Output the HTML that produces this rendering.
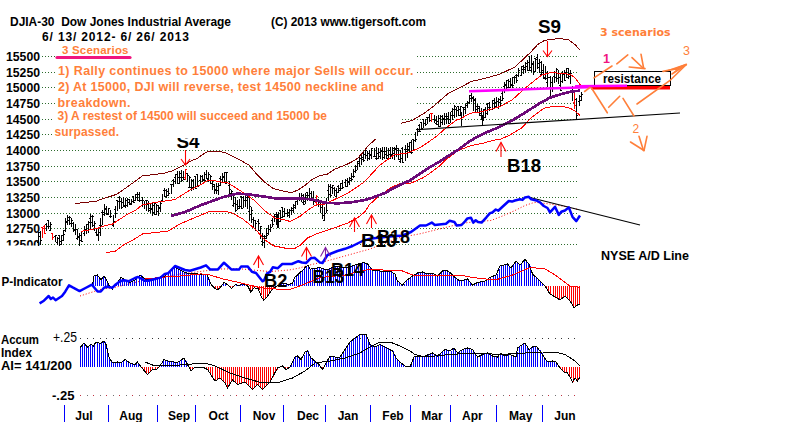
<!DOCTYPE html><html><head><meta charset="utf-8"><title>DJIA-30 Dow Jones Industrial Average</title><style>html,body{margin:0;padding:0;background:#fff;}svg{display:block;}</style></head><body><svg width="800" height="422" viewBox="0 0 800 422"><rect x="0" y="0" width="800" height="422" fill="#fff"/><g stroke="#2d6b2d" stroke-width="1" stroke-dasharray="1 2" shape-rendering="crispEdges"><line x1="42" y1="56.5" x2="579" y2="56.5"/><line x1="42" y1="72.5" x2="579" y2="72.5"/><line x1="42" y1="87.5" x2="579" y2="87.5"/><line x1="42" y1="103.5" x2="579" y2="103.5"/><line x1="42" y1="119.5" x2="579" y2="119.5"/><line x1="42" y1="134.5" x2="579" y2="134.5"/><line x1="42" y1="150.5" x2="579" y2="150.5"/><line x1="42" y1="166.5" x2="579" y2="166.5"/><line x1="42" y1="181.5" x2="579" y2="181.5"/><line x1="42" y1="197.5" x2="579" y2="197.5"/><line x1="42" y1="213.5" x2="579" y2="213.5"/><line x1="42" y1="228.5" x2="579" y2="228.5"/><line x1="42" y1="244.5" x2="579" y2="244.5"/></g><path d="M38 232v14h1v-14zM37 242h1v1h-1zM39 232h1v1h-1zM40 231v14h1v-14zM39 236h1v1h-1zM41 240h1v1h-1zM46 223v8h1v-8zM45 224h1v1h-1zM47 226h1v1h-1zM48 220v9h1v-9zM47 220h1v1h-1zM49 226h1v1h-1zM50 222v9h1v-9zM49 230h1v1h-1zM51 224h1v1h-1zM55 235v7h1v-7zM54 236h1v1h-1zM56 235h1v1h-1zM57 237v8h1v-8zM56 242h1v1h-1zM58 238h1v1h-1zM59 235v11h1v-11zM58 235h1v1h-1zM60 244h1v1h-1zM61 235v10h1v-10zM60 241h1v1h-1zM62 240h1v1h-1zM63 230v11h1v-11zM62 235h1v1h-1zM64 234h1v1h-1zM65 218v14h1v-14zM64 230h1v1h-1zM66 221h1v1h-1zM67 215v10h1v-10zM66 222h1v1h-1zM68 220h1v1h-1zM69 216v9h1v-9zM68 217h1v1h-1zM70 217h1v1h-1zM71 218v9h1v-9zM70 223h1v1h-1zM72 220h1v1h-1zM73 222v10h1v-10zM72 223h1v1h-1zM74 230h1v1h-1zM75 224v11h1v-11zM74 229h1v1h-1zM76 229h1v1h-1zM77 229v11h1v-11zM76 238h1v1h-1zM78 236h1v1h-1zM79 233v13h1v-13zM78 237h1v1h-1zM80 240h1v1h-1zM81 231v11h1v-11zM80 235h1v1h-1zM82 241h1v1h-1zM84 226v10h1v-10zM83 233h1v1h-1zM85 230h1v1h-1zM86 224v10h1v-10zM85 229h1v1h-1zM87 224h1v1h-1zM88 221v12h1v-12zM87 230h1v1h-1zM89 222h1v1h-1zM90 214v15h1v-15zM89 218h1v1h-1zM91 216h1v1h-1zM92 215v12h1v-12zM91 222h1v1h-1zM93 216h1v1h-1zM94 221v10h1v-10zM93 225h1v1h-1zM95 223h1v1h-1zM96 228v8h1v-8zM95 232h1v1h-1zM97 234h1v1h-1zM98 229v12h1v-12zM97 235h1v1h-1zM99 232h1v1h-1zM100 218v18h1v-18zM99 225h1v1h-1zM101 225h1v1h-1zM102 210v15h1v-15zM101 212h1v1h-1zM103 214h1v1h-1zM104 204v12h1v-12zM103 212h1v1h-1zM105 209h1v1h-1zM106 206v9h1v-9zM105 208h1v1h-1zM107 214h1v1h-1zM108 208v7h1v-7zM107 213h1v1h-1zM109 208h1v1h-1zM110 210v8h1v-8zM109 216h1v1h-1zM111 216h1v1h-1zM113 215v12h1v-12zM112 225h1v1h-1zM114 221h1v1h-1zM115 206v12h1v-12zM114 209h1v1h-1zM116 213h1v1h-1zM117 200v11h1v-11zM116 200h1v1h-1zM118 201h1v1h-1zM119 196v13h1v-13zM118 197h1v1h-1zM120 201h1v1h-1zM121 198v11h1v-11zM120 201h1v1h-1zM122 207h1v1h-1zM123 197v10h1v-10zM122 202h1v1h-1zM124 206h1v1h-1zM125 198v10h1v-10zM124 205h1v1h-1zM126 205h1v1h-1zM127 198v9h1v-9zM126 200h1v1h-1zM128 199h1v1h-1zM129 199v6h1v-6zM128 202h1v1h-1zM130 204h1v1h-1zM131 199v6h1v-6zM130 203h1v1h-1zM132 201h1v1h-1zM133 196v7h1v-7zM132 196h1v1h-1zM134 202h1v1h-1zM135 194v7h1v-7zM134 200h1v1h-1zM136 194h1v1h-1zM137 192v9h1v-9zM136 197h1v1h-1zM138 194h1v1h-1zM139 192v10h1v-10zM138 200h1v1h-1zM140 200h1v1h-1zM142 197v10h1v-10zM141 200h1v1h-1zM143 200h1v1h-1zM144 201v8h1v-8zM143 204h1v1h-1zM145 204h1v1h-1zM146 200v11h1v-11zM145 200h1v1h-1zM147 200h1v1h-1zM148 201v11h1v-11zM147 204h1v1h-1zM149 210h1v1h-1zM150 203v10h1v-10zM149 208h1v1h-1zM151 208h1v1h-1zM152 202v14h1v-14zM151 209h1v1h-1zM153 205h1v1h-1zM154 203v12h1v-12zM153 212h1v1h-1zM155 203h1v1h-1zM156 204v11h1v-11zM155 214h1v1h-1zM157 205h1v1h-1zM158 205v11h1v-11zM157 211h1v1h-1zM159 208h1v1h-1zM160 202v10h1v-10zM159 207h1v1h-1zM161 203h1v1h-1zM162 194v8h1v-8zM161 200h1v1h-1zM163 201h1v1h-1zM164 188v9h1v-9zM163 190h1v1h-1zM165 190h1v1h-1zM166 189v9h1v-9zM165 196h1v1h-1zM167 191h1v1h-1zM168 188v8h1v-8zM167 195h1v1h-1zM169 193h1v1h-1zM171 184v10h1v-10zM170 184h1v1h-1zM172 184h1v1h-1zM173 179v8h1v-8zM172 180h1v1h-1zM174 181h1v1h-1zM175 174v10h1v-10zM174 177h1v1h-1zM176 174h1v1h-1zM177 171v13h1v-13zM176 174h1v1h-1zM178 183h1v1h-1zM179 171v13h1v-13zM178 177h1v1h-1zM180 173h1v1h-1zM181 170v12h1v-12zM180 177h1v1h-1zM182 180h1v1h-1zM183 171v9h1v-9zM182 177h1v1h-1zM184 179h1v1h-1zM187 173v9h1v-9zM186 173h1v1h-1zM188 175h1v1h-1zM189 176v12h1v-12zM188 187h1v1h-1zM190 177h1v1h-1zM191 179v12h1v-12zM190 187h1v1h-1zM192 187h1v1h-1zM193 179v11h1v-11zM192 180h1v1h-1zM194 187h1v1h-1zM195 176v13h1v-13zM194 176h1v1h-1zM196 188h1v1h-1zM197 174v13h1v-13zM196 174h1v1h-1zM198 186h1v1h-1zM200 175v10h1v-10zM199 180h1v1h-1zM201 184h1v1h-1zM202 175v7h1v-7zM201 176h1v1h-1zM203 180h1v1h-1zM204 172v9h1v-9zM203 179h1v1h-1zM205 180h1v1h-1zM206 170v9h1v-9zM205 174h1v1h-1zM207 178h1v1h-1zM208 172v10h1v-10zM207 179h1v1h-1zM209 174h1v1h-1zM210 175v9h1v-9zM209 180h1v1h-1zM211 176h1v1h-1zM212 180v10h1v-10zM211 183h1v1h-1zM213 184h1v1h-1zM214 184v10h1v-10zM213 186h1v1h-1zM215 189h1v1h-1zM216 183v11h1v-11zM215 190h1v1h-1zM217 186h1v1h-1zM218 183v12h1v-12zM217 190h1v1h-1zM219 185h1v1h-1zM220 176v10h1v-10zM219 178h1v1h-1zM221 182h1v1h-1zM222 173v10h1v-10zM221 179h1v1h-1zM223 176h1v1h-1zM224 172v11h1v-11zM223 177h1v1h-1zM225 172h1v1h-1zM226 172v12h1v-12zM225 183h1v1h-1zM227 172h1v1h-1zM229 181v14h1v-14zM228 185h1v1h-1zM230 189h1v1h-1zM231 190v10h1v-10zM230 193h1v1h-1zM232 191h1v1h-1zM233 193v14h1v-14zM232 205h1v1h-1zM234 195h1v1h-1zM235 197v15h1v-15zM234 203h1v1h-1zM236 210h1v1h-1zM237 200v10h1v-10zM236 204h1v1h-1zM238 206h1v1h-1zM239 199v10h1v-10zM238 208h1v1h-1zM240 206h1v1h-1zM241 196v13h1v-13zM240 196h1v1h-1zM242 208h1v1h-1zM243 196v12h1v-12zM242 197h1v1h-1zM244 200h1v1h-1zM245 196v11h1v-11zM244 200h1v1h-1zM246 197h1v1h-1zM247 196v13h1v-13zM246 200h1v1h-1zM248 197h1v1h-1zM249 198v17h1v-17zM248 211h1v1h-1zM250 206h1v1h-1zM251 207v16h1v-16zM250 214h1v1h-1zM252 210h1v1h-1zM253 217v11h1v-11zM252 219h1v1h-1zM254 220h1v1h-1zM255 220v11h1v-11zM254 228h1v1h-1zM256 223h1v1h-1zM258 219v12h1v-12zM257 221h1v1h-1zM259 223h1v1h-1zM260 226v13h1v-13zM259 230h1v1h-1zM261 226h1v1h-1zM262 233v13h1v-13zM261 241h1v1h-1zM263 236h1v1h-1zM264 235v13h1v-13zM263 242h1v1h-1zM265 236h1v1h-1zM266 228v11h1v-11zM265 238h1v1h-1zM267 235h1v1h-1zM268 225v10h1v-10zM267 233h1v1h-1zM269 229h1v1h-1zM270 224v8h1v-8zM269 229h1v1h-1zM271 227h1v1h-1zM272 218v9h1v-9zM271 220h1v1h-1zM273 224h1v1h-1zM274 214v8h1v-8zM273 216h1v1h-1zM275 214h1v1h-1zM276 212v13h1v-13zM275 216h1v1h-1zM277 218h1v1h-1zM278 212v16h1v-16zM277 224h1v1h-1zM279 221h1v1h-1zM280 210v12h1v-12zM279 210h1v1h-1zM281 217h1v1h-1zM282 207v11h1v-11zM281 207h1v1h-1zM283 211h1v1h-1zM284 208v9h1v-9zM283 216h1v1h-1zM285 213h1v1h-1zM287 209v8h1v-8zM286 213h1v1h-1zM288 212h1v1h-1zM289 209v9h1v-9zM288 215h1v1h-1zM290 210h1v1h-1zM291 207v8h1v-8zM290 210h1v1h-1zM292 210h1v1h-1zM293 204v9h1v-9zM292 208h1v1h-1zM294 205h1v1h-1zM295 201v8h1v-8zM294 207h1v1h-1zM296 201h1v1h-1zM297 197v8h1v-8zM296 198h1v1h-1zM298 199h1v1h-1zM299 193v8h1v-8zM298 199h1v1h-1zM300 198h1v1h-1zM301 193v9h1v-9zM300 197h1v1h-1zM302 195h1v1h-1zM303 194v11h1v-11zM302 202h1v1h-1zM304 204h1v1h-1zM305 193v11h1v-11zM304 201h1v1h-1zM306 195h1v1h-1zM307 192v9h1v-9zM306 192h1v1h-1zM308 195h1v1h-1zM309 188v11h1v-11zM308 198h1v1h-1zM310 193h1v1h-1zM311 191v10h1v-10zM310 198h1v1h-1zM312 199h1v1h-1zM313 191v14h1v-14zM312 199h1v1h-1zM314 201h1v1h-1zM318 199v8h1v-8zM317 200h1v1h-1zM319 200h1v1h-1zM320 203v10h1v-10zM319 204h1v1h-1zM321 207h1v1h-1zM322 204v15h1v-15zM321 207h1v1h-1zM323 215h1v1h-1zM324 207v14h1v-14zM323 220h1v1h-1zM325 213h1v1h-1zM326 198v15h1v-15zM325 202h1v1h-1zM327 210h1v1h-1zM328 184v17h1v-17zM327 190h1v1h-1zM329 186h1v1h-1zM330 184v13h1v-13zM329 194h1v1h-1zM331 195h1v1h-1zM332 185v9h1v-9zM331 187h1v1h-1zM333 185h1v1h-1zM334 187v9h1v-9zM333 188h1v1h-1zM335 190h1v1h-1zM336 188v9h1v-9zM335 196h1v1h-1zM337 192h1v1h-1zM338 185v8h1v-8zM337 186h1v1h-1zM339 188h1v1h-1zM340 183v8h1v-8zM339 190h1v1h-1zM341 183h1v1h-1zM342 180v9h1v-9zM341 188h1v1h-1zM343 187h1v1h-1zM345 179v8h1v-8zM344 182h1v1h-1zM346 180h1v1h-1zM347 178v9h1v-9zM346 186h1v1h-1zM348 182h1v1h-1zM349 177v8h1v-8zM348 181h1v1h-1zM350 178h1v1h-1zM351 173v8h1v-8zM350 180h1v1h-1zM352 179h1v1h-1zM353 169v9h1v-9zM352 176h1v1h-1zM354 176h1v1h-1zM355 165v8h1v-8zM354 171h1v1h-1zM356 170h1v1h-1zM357 161v9h1v-9zM356 166h1v1h-1zM358 161h1v1h-1zM359 157v10h1v-10zM358 163h1v1h-1zM360 158h1v1h-1zM361 155v10h1v-10zM360 155h1v1h-1zM362 159h1v1h-1zM363 151v11h1v-11zM362 157h1v1h-1zM364 160h1v1h-1zM365 150v9h1v-9zM364 154h1v1h-1zM366 150h1v1h-1zM367 151v10h1v-10zM366 155h1v1h-1zM368 153h1v1h-1zM369 150v10h1v-10zM368 158h1v1h-1zM370 155h1v1h-1zM371 148v11h1v-11zM370 154h1v1h-1zM372 148h1v1h-1zM374 148v9h1v-9zM373 156h1v1h-1zM375 156h1v1h-1zM376 147v13h1v-13zM375 158h1v1h-1zM377 153h1v1h-1zM378 148v11h1v-11zM377 158h1v1h-1zM379 152h1v1h-1zM380 148v11h1v-11zM379 156h1v1h-1zM381 150h1v1h-1zM382 147v13h1v-13zM381 151h1v1h-1zM383 151h1v1h-1zM384 147v12h1v-12zM383 157h1v1h-1zM385 151h1v1h-1zM386 147v12h1v-12zM385 154h1v1h-1zM387 155h1v1h-1zM388 148v12h1v-12zM387 158h1v1h-1zM389 150h1v1h-1zM390 147v12h1v-12zM389 154h1v1h-1zM391 155h1v1h-1zM392 147v12h1v-12zM391 154h1v1h-1zM393 153h1v1h-1zM394 147v13h1v-13zM393 148h1v1h-1zM395 149h1v1h-1zM396 145v12h1v-12zM395 148h1v1h-1zM397 150h1v1h-1zM398 148v12h1v-12zM397 148h1v1h-1zM399 159h1v1h-1zM400 150v13h1v-13zM399 161h1v1h-1zM401 158h1v1h-1zM402 147v16h1v-16zM401 148h1v1h-1zM403 162h1v1h-1zM405 145v16h1v-16zM404 149h1v1h-1zM406 151h1v1h-1zM407 143v15h1v-15zM406 149h1v1h-1zM408 149h1v1h-1zM409 142v11h1v-11zM408 146h1v1h-1zM410 142h1v1h-1zM411 140v14h1v-14zM410 152h1v1h-1zM412 152h1v1h-1zM413 139v12h1v-12zM412 139h1v1h-1zM414 140h1v1h-1zM415 132v10h1v-10zM414 140h1v1h-1zM416 139h1v1h-1zM417 128v8h1v-8zM416 129h1v1h-1zM418 131h1v1h-1zM419 124v8h1v-8zM418 125h1v1h-1zM420 131h1v1h-1zM421 122v7h1v-7zM420 122h1v1h-1zM422 128h1v1h-1zM423 119v9h1v-9zM422 119h1v1h-1zM424 123h1v1h-1zM425 119v7h1v-7zM424 123h1v1h-1zM426 124h1v1h-1zM427 117v7h1v-7zM426 117h1v1h-1zM428 117h1v1h-1zM429 114v8h1v-8zM428 117h1v1h-1zM430 120h1v1h-1zM434 115v8h1v-8zM433 119h1v1h-1zM435 120h1v1h-1zM436 116v9h1v-9zM435 123h1v1h-1zM437 124h1v1h-1zM438 115v12h1v-12zM437 121h1v1h-1zM439 126h1v1h-1zM440 115v12h1v-12zM439 118h1v1h-1zM441 122h1v1h-1zM442 115v10h1v-10zM441 116h1v1h-1zM443 119h1v1h-1zM444 113v12h1v-12zM443 118h1v1h-1zM445 116h1v1h-1zM446 113v11h1v-11zM445 119h1v1h-1zM447 118h1v1h-1zM448 112v12h1v-12zM447 116h1v1h-1zM449 123h1v1h-1zM450 112v11h1v-11zM449 119h1v1h-1zM451 115h1v1h-1zM452 108v12h1v-12zM451 111h1v1h-1zM453 115h1v1h-1zM454 105v13h1v-13zM453 109h1v1h-1zM455 106h1v1h-1zM456 107v10h1v-10zM455 109h1v1h-1zM457 110h1v1h-1zM458 106v10h1v-10zM457 106h1v1h-1zM459 115h1v1h-1zM460 106v10h1v-10zM459 109h1v1h-1zM461 106h1v1h-1zM463 107v9h1v-9zM462 107h1v1h-1zM464 107h1v1h-1zM465 104v10h1v-10zM464 109h1v1h-1zM466 105h1v1h-1zM467 101v7h1v-7zM466 103h1v1h-1zM468 102h1v1h-1zM469 95v9h1v-9zM468 102h1v1h-1zM470 95h1v1h-1zM471 93v9h1v-9zM470 98h1v1h-1zM472 98h1v1h-1zM473 96v15h1v-15zM472 97h1v1h-1zM474 100h1v1h-1zM475 98v14h1v-14zM474 99h1v1h-1zM476 106h1v1h-1zM477 104v8h1v-8zM476 109h1v1h-1zM478 108h1v1h-1zM479 106v10h1v-10zM478 106h1v1h-1zM480 113h1v1h-1zM481 108v12h1v-12zM480 115h1v1h-1zM482 111h1v1h-1zM483 109v12h1v-12zM482 116h1v1h-1zM484 109h1v1h-1zM485 107v11h1v-11zM484 117h1v1h-1zM486 113h1v1h-1zM487 103v12h1v-12zM486 104h1v1h-1zM488 103h1v1h-1zM489 102v9h1v-9zM488 107h1v1h-1zM490 107h1v1h-1zM492 100v10h1v-10zM491 109h1v1h-1zM493 100h1v1h-1zM494 98v11h1v-11zM493 103h1v1h-1zM495 102h1v1h-1zM496 97v11h1v-11zM495 106h1v1h-1zM497 107h1v1h-1zM498 98v11h1v-11zM497 101h1v1h-1zM499 99h1v1h-1zM500 96v10h1v-10zM499 102h1v1h-1zM501 100h1v1h-1zM502 91v10h1v-10zM501 93h1v1h-1zM503 98h1v1h-1zM504 82v11h1v-11zM503 86h1v1h-1zM505 84h1v1h-1zM506 80v10h1v-10zM505 85h1v1h-1zM507 87h1v1h-1zM508 79v9h1v-9zM507 80h1v1h-1zM509 87h1v1h-1zM510 78v10h1v-10zM509 81h1v1h-1zM511 84h1v1h-1zM512 77v11h1v-11zM511 85h1v1h-1zM513 85h1v1h-1zM514 76v8h1v-8zM513 77h1v1h-1zM515 77h1v1h-1zM516 74v9h1v-9zM515 75h1v1h-1zM517 80h1v1h-1zM518 68v9h1v-9zM517 75h1v1h-1zM519 70h1v1h-1zM521 66v10h1v-10zM520 75h1v1h-1zM522 69h1v1h-1zM523 65v9h1v-9zM522 66h1v1h-1zM524 69h1v1h-1zM525 62v11h1v-11zM524 67h1v1h-1zM526 66h1v1h-1zM527 60v11h1v-11zM526 63h1v1h-1zM528 62h1v1h-1zM529 56v15h1v-15zM528 70h1v1h-1zM530 70h1v1h-1zM531 55v17h1v-17zM530 67h1v1h-1zM532 63h1v1h-1zM533 61v14h1v-14zM532 64h1v1h-1zM534 71h1v1h-1zM535 58v14h1v-14zM534 58h1v1h-1zM536 59h1v1h-1zM537 54v15h1v-15zM536 57h1v1h-1zM538 67h1v1h-1zM539 59v14h1v-14zM538 63h1v1h-1zM540 62h1v1h-1zM541 61v15h1v-15zM540 74h1v1h-1zM542 70h1v1h-1zM543 64v15h1v-15zM542 72h1v1h-1zM544 77h1v1h-1zM545 66v14h1v-14zM544 78h1v1h-1zM546 78h1v1h-1zM547 71v16h1v-16zM546 82h1v1h-1zM548 77h1v1h-1zM550 76v18h1v-18zM549 77h1v1h-1zM551 82h1v1h-1zM552 77v15h1v-15zM551 88h1v1h-1zM553 87h1v1h-1zM554 71v12h1v-12zM553 76h1v1h-1zM555 77h1v1h-1zM556 68v14h1v-14zM555 72h1v1h-1zM557 69h1v1h-1zM558 70v14h1v-14zM557 78h1v1h-1zM559 77h1v1h-1zM560 73v18h1v-18zM559 85h1v1h-1zM561 90h1v1h-1zM562 71v12h1v-12zM561 81h1v1h-1zM563 73h1v1h-1zM564 70v11h1v-11zM563 74h1v1h-1zM565 80h1v1h-1zM566 68v10h1v-10zM565 72h1v1h-1zM567 77h1v1h-1zM568 68v11h1v-11zM567 68h1v1h-1zM569 73h1v1h-1zM570 70v14h1v-14zM569 76h1v1h-1zM571 73h1v1h-1zM572 86v15h1v-15zM571 88h1v1h-1zM573 92h1v1h-1zM576 98v20h1v-20zM575 99h1v1h-1zM577 115h1v1h-1zM579 95v11h1v-11zM578 101h1v1h-1zM580 96h1v1h-1zM581 92v9h1v-9zM580 100h1v1h-1zM582 94h1v1h-1z" fill="#000" shape-rendering="crispEdges"/><path d="M461 112v14h1v-14zM482 115v10h1v-10zM550 88v11h1v-11zM576 108v12h1v-12zM249 205v16h1v-16zM277 214v14h1v-14z" fill="#000" shape-rendering="crispEdges"/><path d="M42 227v11h1v-11zM41 227h1v1h-1zM43 228h1v1h-1zM44 225v9h1v-9zM43 226h1v1h-1zM45 233h1v1h-1zM52 233v7h1v-7zM51 233h1v1h-1zM53 237h1v1h-1zM185 169v11h1v-11zM184 177h1v1h-1zM186 169h1v1h-1zM316 195v11h1v-11zM315 202h1v1h-1zM317 196h1v1h-1zM431 113v9h1v-9zM430 113h1v1h-1zM432 113h1v1h-1zM574 91v18h1v-18zM573 102h1v1h-1zM575 105h1v1h-1z" fill="#f00" shape-rendering="crispEdges"/><polyline points="75.0,203.5 85.0,202.5 97.0,201.0 100.0,199.5 110.0,196.5 116.0,194.5 120.0,192.0 130.0,185.0 135.0,181.3 142.5,175.7 155.0,174.5 165.0,173.0 172.7,170.7 184.0,165.0 192.8,160.0 196.7,158.8 205.6,152.5 210.0,151.3 217.0,151.3 225.0,152.5 240.0,160.0 248.9,165.0 256.4,173.8 265.2,182.6 272.7,188.2 281.5,190.8 291.6,192.6 297.9,190.0 305.4,185.0 313.0,178.8 320.5,175.5 327.5,174.0 335.0,169.0 345.0,165.2 352.7,161.4 357.7,158.3 362.7,152.6 367.7,146.3 376.5,138.2 385.0,132.0 401.0,123.2 412.0,120.6 425.0,112.8 435.0,105.0 447.7,93.8 460.0,87.5 471.6,81.3 478.0,80.0 490.0,77.0 500.0,74.0 515.0,67.0 525.0,57.6 531.4,51.4 537.7,44.5 544.0,40.7 550.3,39.4 556.0,38.9 562.8,39.0 569.0,40.0 575.4,45.0 580.0,50.0" fill="none" stroke="#7a0000" stroke-width="1" shape-rendering="crispEdges"/><polyline points="106.0,252.5 115.0,251.5 125.0,244.0 133.0,240.0 142.5,234.0 155.0,232.5 167.5,231.3 180.0,224.0 195.0,217.5 210.0,211.3 225.0,211.3 232.0,213.0 242.6,218.8 255.0,229.0 265.0,240.0 274.0,245.9 286.5,248.4 294.0,249.0 300.4,245.0 308.0,237.7 318.0,233.3 330.0,229.5 347.7,223.0 357.8,217.7 365.3,211.5 369.0,205.0 379.5,195.6 392.6,186.5 401.7,183.2 410.8,183.2 422.5,178.0 429.0,174.0 440.0,165.6 445.3,160.2 457.8,150.8 470.4,145.8 483.0,143.2 495.0,140.0 500.0,139.5 510.0,135.0 518.0,130.0 521.4,128.0 532.7,116.5 544.0,108.3 552.8,106.4 562.8,106.4 570.4,108.3 575.4,111.4 579.8,115.2" fill="none" stroke="#ff0000" stroke-width="1" shape-rendering="crispEdges"/><polyline points="80.6,231.4 88.8,230.0 97.6,228.3 105.0,225.8 112.6,224.0 121.4,218.2 127.7,214.0 136.0,210.0 142.0,205.0 152.0,203.0 165.0,201.0 175.0,199.5 190.0,190.0 200.0,185.0 209.0,180.0 215.4,180.8 220.5,182.0 227.6,182.6 242.3,192.0 253.7,200.0 265.0,211.0 275.0,218.0 283.0,219.5 290.0,221.4 300.0,216.3 308.0,210.0 315.0,205.6 316.0,205.0 325.0,204.0 337.7,198.0 347.6,193.3 364.0,182.2 380.0,165.0 394.0,155.0 408.0,152.8 420.0,147.6 427.7,142.6 436.5,136.3 446.5,127.5 456.5,120.0 460.0,119.0 470.0,113.3 480.0,112.0 490.4,109.5 500.5,106.4 512.6,99.5 525.0,88.2 532.7,82.0 541.5,75.2 550.0,72.7 562.8,73.3 570.4,74.5 575.0,78.0 580.4,85.0" fill="none" stroke="#ff0000" stroke-width="1" shape-rendering="crispEdges"/><polyline points="171.0,216.0 185.0,212.0 200.0,205.5 215.0,200.0 225.0,196.5 237.6,193.6 250.0,194.5 262.7,196.4 275.3,198.3 287.8,198.7 300.4,198.5 313.0,199.5 325.0,202.8 337.7,203.3 350.0,202.4 362.8,200.5 373.0,197.5 386.0,192.5 394.0,187.8 409.7,180.5 430.0,167.0 440.0,161.5 445.3,157.7 457.8,150.0 470.4,140.7 483.0,133.8 495.0,128.8 500.0,126.5 512.6,120.2 525.0,112.7 537.7,104.5 550.0,97.6 562.8,93.6 572.9,91.3 580.4,90.7" fill="none" stroke="#6c0a78" stroke-width="2.7" shape-rendering="crispEdges"/><polyline points="469,91.3 540,88.8 627,86" fill="none" stroke="#ff00ff" stroke-width="2.6"/><line x1="417.5" y1="129.6" x2="680" y2="113" stroke="#000" stroke-width="1.1"/><polyline points="80.0,296.0 102.5,288.8 112.6,288.0 145.0,280.0 180.0,274.0 220.0,269.0 240.0,268.8 270.0,271.6 289.0,270.0 298.4,268.3 307.9,265.4 320.0,262.6 325.0,261.5 370.0,249.0 400.0,237.5 420.0,233.8 443.7,227.9 455.5,225.0 467.4,222.6 479.2,221.4 491.0,220.5 502.5,216.0 515.0,210.5 525.0,205.5 532.5,203.0 536.0,202.4 550.0,204.0 565.0,206.5 578.0,209.5" fill="none" stroke="#f00" stroke-width="1" stroke-dasharray="1 2"/><line x1="530" y1="197.5" x2="640" y2="225" stroke="#000" stroke-width="1.1"/><path d="M93 282V286h1V282zM95 276V286h1V276zM97 275V286h1V275zM99 277V286h1V277zM101 280V286h1V280zM103 277V286h1V277zM105 278V286h1V278zM107 282V286h1V282zM116 285V286h1V285zM118 282V286h1V282zM120 279V286h1V279zM122 278V286h1V278zM124 279V286h1V279zM126 281V286h1V281zM128 282V286h1V282zM130 282V286h1V282zM132 281V286h1V281zM134 280V286h1V280zM136 279V286h1V279zM139 276V286h1V276zM141 275V286h1V275zM143 277V286h1V277zM145 279V286h1V279zM147 279V286h1V279zM149 280V286h1V280zM151 280V286h1V280zM153 279V286h1V279zM155 278V286h1V278zM157 278V286h1V278zM159 277V286h1V277zM161 277V286h1V277zM163 276V286h1V276zM165 276V286h1V276zM168 273V286h1V273zM170 271V286h1V271zM172 270V286h1V270zM174 268V286h1V268zM176 268V286h1V268zM178 269V286h1V269zM180 270V286h1V270zM182 271V286h1V271zM184 272V286h1V272zM186 273V286h1V273zM188 273V286h1V273zM190 274V286h1V274zM192 274V286h1V274zM194 274V286h1V274zM196 274V286h1V274zM199 274V286h1V274zM201 274V286h1V274zM203 274V286h1V274zM205 274V286h1V274zM207 275V286h1V275zM209 279V286h1V279zM211 284V286h1V284zM223 283V286h1V283zM225 283V286h1V283zM228 285V286h1V285zM236 284V286h1V284zM240 285V286h1V285zM242 284V286h1V284zM244 284V286h1V284zM246 285V286h1V285zM279 285V286h1V285zM281 284V286h1V284zM283 284V286h1V284zM286 284V286h1V284zM288 284V286h1V284zM290 284V286h1V284zM292 283V286h1V283zM294 280V286h1V280zM296 276V286h1V276zM298 274V286h1V274zM300 273V286h1V273zM302 271V286h1V271zM304 269V286h1V269zM306 266V286h1V266zM308 266V286h1V266zM310 269V286h1V269zM312 269V286h1V269zM314 268V286h1V268zM317 268V286h1V268zM319 268V286h1V268zM321 268V286h1V268zM323 268V286h1V268zM325 269V286h1V269zM327 270V286h1V270zM329 269V286h1V269zM331 268V286h1V268zM333 267V286h1V267zM335 266V286h1V266zM337 266V286h1V266zM339 267V286h1V267zM341 267V286h1V267zM343 268V286h1V268zM346 268V286h1V268zM348 267V286h1V267zM350 267V286h1V267zM352 266V286h1V266zM354 265V286h1V265zM356 265V286h1V265zM358 264V286h1V264zM360 264V286h1V264zM362 263V286h1V263zM364 263V286h1V263zM366 263V286h1V263zM368 265V286h1V265zM370 267V286h1V267zM372 270V286h1V270zM375 270V286h1V270zM377 271V286h1V271zM379 271V286h1V271zM381 271V286h1V271zM383 271V286h1V271zM385 271V286h1V271zM387 271V286h1V271zM389 271V286h1V271zM391 272V286h1V272zM393 273V286h1V273zM395 275V286h1V275zM397 280V286h1V280zM399 282V286h1V282zM401 284V286h1V284zM404 284V286h1V284zM406 281V286h1V281zM408 280V286h1V280zM410 278V286h1V278zM412 277V286h1V277zM414 275V286h1V275zM416 274V286h1V274zM418 273V286h1V273zM420 272V286h1V272zM422 272V286h1V272zM424 273V286h1V273zM426 273V286h1V273zM428 274V286h1V274zM430 273V286h1V273zM432 273V286h1V273zM435 274V286h1V274zM437 276V286h1V276zM439 275V286h1V275zM441 273V286h1V273zM443 271V286h1V271zM445 270V286h1V270zM447 271V286h1V271zM449 272V286h1V272zM451 274V286h1V274zM453 276V286h1V276zM455 278V286h1V278zM457 279V286h1V279zM459 281V286h1V281zM461 281V286h1V281zM464 280V286h1V280zM466 280V286h1V280zM468 279V286h1V279zM470 282V286h1V282zM472 284V286h1V284zM474 284V286h1V284zM476 283V286h1V283zM478 282V286h1V282zM480 282V286h1V282zM482 282V286h1V282zM484 281V286h1V281zM486 280V286h1V280zM488 279V286h1V279zM490 277V286h1V277zM493 276V286h1V276zM495 276V286h1V276zM497 274V286h1V274zM499 269V286h1V269zM501 266V286h1V266zM503 265V286h1V265zM505 265V286h1V265zM507 264V286h1V264zM509 266V286h1V266zM511 268V286h1V268zM513 265V286h1V265zM515 262V286h1V262zM517 262V286h1V262zM519 264V286h1V264zM521 263V286h1V263zM524 261V286h1V261zM526 260V286h1V260zM528 263V286h1V263zM530 266V286h1V266zM532 272V286h1V272zM534 275V286h1V275zM536 277V286h1V277zM538 279V286h1V279zM540 281V286h1V281zM542 283V286h1V283zM544 285V286h1V285z" fill="#0000ff" shape-rendering="crispEdges"/><path d="M110 286V287h1V286zM112 286V288h1V286zM114 286V287h1V286zM213 286V287h1V286zM215 286V288h1V286zM217 286V290h1V286zM219 286V289h1V286zM230 286V287h1V286zM232 286V288h1V286zM248 286V287h1V286zM250 286V291h1V286zM252 286V290h1V286zM254 286V288h1V286zM257 286V288h1V286zM259 286V290h1V286zM261 286V295h1V286zM263 286V299h1V286zM265 286V299h1V286zM267 286V297h1V286zM269 286V294h1V286zM271 286V291h1V286zM273 286V289h1V286zM275 286V287h1V286zM546 286V288h1V286zM548 286V291h1V286zM550 286V294h1V286zM553 286V295h1V286zM555 286V297h1V286zM557 286V298h1V286zM559 286V299h1V286zM561 286V299h1V286zM563 286V298h1V286zM565 286V296h1V286zM567 286V298h1V286zM569 286V300h1V286zM571 286V303h1V286zM573 286V306h1V286zM575 286V307h1V286zM577 286V305h1V286zM579 286V304h1V286z" fill="#ff0000" shape-rendering="crispEdges"/><polyline points="92.5,286.0 93.8,276.0 97.5,275.0 101.0,280.0 104.0,276.0 106.0,279.0 110.0,287.5 112.5,289.0 117.5,282.5 121.0,277.5 125.0,280.0 130.0,282.5 135.0,280.0 140.0,275.0 145.0,279.0 150.0,280.0 157.5,277.5 165.0,276.0 170.0,271.0 175.0,267.5 180.0,270.0 185.0,272.5 190.0,273.9 196.0,273.9 205.0,274.5 207.0,275.0 211.3,285.0 216.7,289.9 219.8,288.3 224.0,282.4 227.3,284.5 231.6,288.3 235.9,284.0 238.0,286.0 242.3,283.5 247.6,285.6 250.8,292.0 254.0,287.7 258.3,288.8 261.5,297.3 263.6,300.0 266.8,297.3 272.5,289.0 277.0,286.0 281.0,284.0 285.0,283.5 289.0,284.5 292.7,283.0 294.6,277.7 298.4,274.0 303.0,270.0 306.0,266.4 308.0,265.4 310.0,269.2 320.0,267.5 327.0,270.0 335.0,266.0 345.0,268.0 355.0,265.0 363.8,262.5 367.5,264.0 372.5,270.0 380.0,271.0 390.0,271.0 395.0,274.0 397.5,281.0 402.5,285.0 406.0,281.0 412.5,276.0 417.5,273.0 422.5,272.0 427.5,273.8 432.0,273.0 437.5,276.0 442.5,271.0 446.0,270.0 450.0,272.5 455.0,277.5 460.0,281.0 467.5,279.0 472.5,285.0 477.5,282.5 485.0,281.0 490.0,277.5 496.0,275.0 500.0,266.0 507.5,264.0 511.0,268.0 516.0,261.0 520.0,265.0 525.0,259.5 529.0,264.0 532.5,274.0 540.0,281.0 545.0,286.0 550.0,294.0 556.0,297.5 560.0,300.0 565.0,296.0 570.0,301.0 574.0,307.5 577.5,305.0 580.0,304.0" fill="none" stroke="#000" stroke-width="1" shape-rendering="crispEdges"/><polyline points="145.0,279.0 165.0,277.0 180.0,276.0 190.0,275.0 200.7,273.9 208.0,274.4 222.0,278.7 243.3,283.5 258.3,287.2 270.0,288.8 290.0,289.5 305.0,284.0 320.0,277.5 345.0,275.0 370.0,269.0 395.0,271.0 400.0,270.0 412.5,275.0 437.5,276.0 460.0,275.0 472.5,277.5 495.0,280.0 512.5,275.0 530.0,267.5 545.0,268.8 555.0,275.0 570.0,286.0 580.0,287.5" fill="none" stroke="#f00" stroke-width="1" shape-rendering="crispEdges"/><polyline points="39.6,303.4 43.9,300.7 48.7,296.0 50.8,299.0 53.0,297.5 55.6,300.2 62.0,296.0 65.2,291.7 69.0,285.3 72.7,287.4 79.6,291.1 85.5,288.0 91.9,284.7 94.4,287.7 97.6,291.5 100.8,291.5 104.0,287.7 107.2,286.7 112.5,287.7 115.7,284.5 120.0,281.3 124.3,280.3 128.5,281.3 135.0,278.0 138.0,277.0 141.3,278.7 144.5,280.8 148.0,280.8 152.0,279.7 160.5,277.6 164.8,273.9 168.0,273.3 175.0,266.0 185.0,270.0 190.0,270.7 200.7,267.5 206.0,265.3 210.3,269.6 217.7,269.6 224.0,262.7 231.6,269.6 239.0,269.6 241.2,266.4 247.6,266.4 251.9,271.7 256.0,273.0 262.5,281.3 264.0,280.5 267.0,273.4 270.0,272.0 272.8,267.3 277.6,268.3 282.3,264.0 291.8,264.0 298.4,261.2 302.0,262.5 306.0,263.0 310.7,258.3 314.5,257.8 320.0,262.6 322.5,263.0 327.5,255.0 337.5,251.0 345.0,248.8 352.5,246.0 362.5,241.0 370.0,238.8 380.0,237.5 395.0,236.0 401.6,235.8 411.0,232.0 420.0,225.5 426.0,225.5 431.8,222.6 434.8,225.0 446.0,223.8 449.6,220.8 454.4,222.0 456.7,225.5 461.5,225.0 465.0,221.4 467.4,218.4 471.0,217.8 473.3,222.6 475.7,220.2 478.0,222.0 481.6,222.6 486.4,217.3 490.0,213.1 492.3,212.5 495.8,209.5 498.2,210.7 502.5,206.8 508.8,201.0 512.0,201.6 515.0,200.5 520.0,199.3 522.5,199.9 525.0,197.4 528.8,196.8 531.3,199.3 536.3,200.5 540.0,202.4 543.8,206.0 547.5,208.0 550.0,212.4 555.0,206.8 558.8,214.9 561.3,211.8 565.0,210.5 568.8,207.4 572.5,216.8 576.3,221.1 580.0,215.5" fill="none" stroke="#0000ff" stroke-width="2.5" stroke-linejoin="round"/><line x1="80" y1="338.5" x2="580" y2="338.5" stroke="#333" stroke-width="1" stroke-dasharray="1 5.5" shape-rendering="crispEdges"/><line x1="80" y1="395.5" x2="580" y2="395.5" stroke="#c03040" stroke-width="1" stroke-dasharray="1 12" shape-rendering="crispEdges"/><line x1="86.5" y1="395.5" x2="580" y2="395.5" stroke="#707070" stroke-width="1" stroke-dasharray="1 12" shape-rendering="crispEdges"/><path d="M80 348V367h1V348zM82 345V367h1V345zM84 343V367h1V343zM86 346V367h1V346zM88 346V367h1V346zM90 345V367h1V345zM92 345V367h1V345zM94 344V367h1V344zM97 342V367h1V342zM99 343V367h1V343zM101 343V367h1V343zM103 342V367h1V342zM105 342V367h1V342zM107 348V367h1V348zM109 357V367h1V357zM111 361V367h1V361zM113 363V367h1V363zM115 362V367h1V362zM117 362V367h1V362zM119 363V367h1V363zM121 363V367h1V363zM123 361V367h1V361zM126 360V367h1V360zM128 361V367h1V361zM130 363V367h1V363zM132 364V367h1V364zM134 364V367h1V364zM136 364V367h1V364zM138 363V367h1V363zM140 366V367h1V366zM161 365V367h1V365zM163 361V367h1V361zM165 360V367h1V360zM167 361V367h1V361zM169 361V367h1V361zM171 361V367h1V361zM173 361V367h1V361zM175 363V367h1V363zM177 362V367h1V362zM179 361V367h1V361zM181 360V367h1V360zM184 358V367h1V358zM186 361V367h1V361zM188 365V367h1V365zM283 366V367h1V366zM291 365V367h1V365zM293 361V367h1V361zM295 357V367h1V357zM297 356V367h1V356zM299 358V367h1V358zM301 359V367h1V359zM304 355V367h1V355zM306 352V367h1V352zM308 351V367h1V351zM310 356V367h1V356zM312 359V367h1V359zM314 360V367h1V360zM316 362V367h1V362zM318 364V367h1V364zM320 366V367h1V366zM324 366V367h1V366zM326 362V367h1V362zM328 359V367h1V359zM330 356V367h1V356zM333 357V367h1V357zM335 357V367h1V357zM337 357V367h1V357zM339 357V367h1V357zM341 356V367h1V356zM343 353V367h1V353zM345 350V367h1V350zM347 346V367h1V346zM349 343V367h1V343zM351 341V367h1V341zM353 339V367h1V339zM355 338V367h1V338zM357 336V367h1V336zM359 335V367h1V335zM362 334V367h1V334zM364 334V367h1V334zM366 334V367h1V334zM368 339V367h1V339zM370 344V367h1V344zM372 345V367h1V345zM374 346V367h1V346zM376 346V367h1V346zM378 345V367h1V345zM380 345V367h1V345zM382 346V367h1V346zM384 347V367h1V347zM386 348V367h1V348zM388 349V367h1V349zM390 350V367h1V350zM393 351V367h1V351zM395 355V367h1V355zM397 359V367h1V359zM399 361V367h1V361zM401 363V367h1V363zM403 364V367h1V364zM405 366V367h1V366zM407 366V367h1V366zM411 364V367h1V364zM413 359V367h1V359zM415 357V367h1V357zM417 356V367h1V356zM419 356V367h1V356zM422 356V367h1V356zM424 356V367h1V356zM426 356V367h1V356zM428 355V367h1V355zM430 354V367h1V354zM432 353V367h1V353zM434 354V367h1V354zM436 355V367h1V355zM438 355V367h1V355zM440 354V367h1V354zM442 352V367h1V352zM444 350V367h1V350zM446 350V367h1V350zM448 351V367h1V351zM451 351V367h1V351zM453 349V367h1V349zM455 349V367h1V349zM457 352V367h1V352zM459 352V367h1V352zM461 351V367h1V351zM463 349V367h1V349zM465 349V367h1V349zM467 348V367h1V348zM469 348V367h1V348zM471 349V367h1V349zM473 351V367h1V351zM475 354V367h1V354zM477 357V367h1V357zM480 356V367h1V356zM482 355V367h1V355zM484 354V367h1V354zM486 354V367h1V354zM488 353V367h1V353zM490 354V367h1V354zM492 356V367h1V356zM494 356V367h1V356zM496 357V367h1V357zM498 356V367h1V356zM500 354V367h1V354zM502 354V367h1V354zM504 356V367h1V356zM506 356V367h1V356zM508 355V367h1V355zM511 355V367h1V355zM513 356V367h1V356zM515 356V367h1V356zM517 352V367h1V352zM519 347V367h1V347zM521 346V367h1V346zM523 344V367h1V344zM525 343V367h1V343zM527 346V367h1V346zM529 349V367h1V349zM531 348V367h1V348zM533 347V367h1V347zM535 346V367h1V346zM537 348V367h1V348zM540 350V367h1V350zM542 353V367h1V353zM544 357V367h1V357zM546 360V367h1V360zM548 362V367h1V362zM550 362V367h1V362zM552 361V367h1V361zM554 361V367h1V361zM556 362V367h1V362zM558 365V367h1V365z" fill="#0000ff" shape-rendering="crispEdges"/><path d="M142 367V368h1V367zM144 367V371h1V367zM146 367V373h1V367zM148 367V374h1V367zM150 367V372h1V367zM152 367V370h1V367zM155 367V370h1V367zM157 367V369h1V367zM190 367V369h1V367zM192 367V370h1V367zM194 367V368h1V367zM204 367V368h1V367zM206 367V369h1V367zM208 367V371h1V367zM210 367V374h1V367zM212 367V377h1V367zM215 367V380h1V367zM217 367V380h1V367zM219 367V379h1V367zM221 367V379h1V367zM223 367V381h1V367zM225 367V383h1V367zM227 367V387h1V367zM229 367V386h1V367zM231 367V382h1V367zM233 367V381h1V367zM235 367V382h1V367zM237 367V384h1V367zM239 367V384h1V367zM241 367V383h1V367zM244 367V382h1V367zM246 367V383h1V367zM248 367V385h1V367zM250 367V387h1V367zM252 367V389h1V367zM254 367V388h1V367zM256 367V386h1V367zM258 367V385h1V367zM260 367V387h1V367zM262 367V389h1V367zM264 367V388h1V367zM266 367V386h1V367zM268 367V384h1V367zM270 367V381h1V367zM273 367V377h1V367zM275 367V373h1V367zM277 367V370h1V367zM279 367V368h1V367zM285 367V368h1V367zM287 367V369h1V367zM289 367V368h1V367zM322 367V369h1V367zM560 367V368h1V367zM562 367V370h1V367zM564 367V372h1V367zM566 367V373h1V367zM569 367V375h1V367zM571 367V378h1V367zM573 367V382h1V367zM575 367V378h1V367zM577 367V380h1V367zM579 367V379h1V367z" fill="#ff0000" shape-rendering="crispEdges"/><polyline points="80.0,348.0 83.8,343.0 87.5,347.0 91.0,344.5 93.5,346.0 96.0,342.0 100.0,343.5 104.0,341.0 106.0,344.5 109.0,357.0 112.5,363.0 117.5,362.0 121.0,363.0 125.0,359.5 130.0,363.0 135.0,364.5 137.5,362.0 141.0,367.0 147.5,374.5 152.5,369.5 156.0,370.0 160.0,366.0 164.0,359.5 168.0,361.0 172.5,361.0 176.0,363.0 180.0,361.0 184.0,358.0 187.5,364.5 191.0,371.0 195.0,367.0 202.5,367.0 207.5,369.5 215.0,381.0 220.0,378.0 225.0,383.0 227.5,388.0 232.5,380.0 237.5,384.5 245.0,382.0 252.5,389.5 257.5,384.5 262.5,389.5 270.0,382.0 277.5,368.0 282.5,366.0 286.0,369.5 290.0,367.0 295.0,357.0 297.5,356.0 301.0,359.5 305.0,352.0 307.5,351.0 311.0,358.0 315.0,361.0 319.0,364.5 322.5,369.5 326.0,363.0 330.0,356.0 335.0,357.0 340.0,357.0 345.0,349.5 350.0,342.0 355.0,338.0 360.0,334.5 366.0,334.0 370.0,344.5 375.0,347.0 380.0,344.5 385.0,347.0 392.5,351.0 396.0,358.0 400.0,362.0 405.0,366.0 410.0,367.0 414.0,357.0 420.0,356.0 425.0,356.0 432.5,353.0 437.5,356.0 441.0,353.0 445.0,349.5 450.0,351.0 454.0,348.0 457.5,353.0 462.5,349.5 467.5,348.0 472.5,349.5 477.5,357.0 482.5,354.5 487.5,353.0 492.5,356.0 497.5,357.0 501.0,353.0 505.0,356.0 510.0,354.5 516.0,357.0 517.5,348.0 522.5,344.5 525.0,343.0 529.0,349.5 532.5,347.0 536.0,346.0 540.0,351.0 544.0,357.0 547.5,362.0 552.5,361.0 556.0,362.0 560.0,368.0 564.0,372.0 567.5,373.0 570.0,377.0 572.5,382.0 575.0,378.0 577.5,381.0 580.0,377.0" fill="none" stroke="#000" stroke-width="1" shape-rendering="crispEdges"/><polyline points="145.0,362.0 155.0,366.0 180.0,365.0 205.0,363.0 215.0,366.0 230.0,373.0 245.0,378.0 262.5,383.0 280.0,382.0 292.5,378.0 305.0,371.0 315.0,363.0 330.0,361.0 345.0,358.0 360.0,353.0 370.0,347.0 380.0,342.0 390.0,342.0 400.0,346.0 410.0,351.0 415.0,354.5 425.0,357.0 450.0,354.5 475.0,353.0 500.0,354.5 525.0,353.0 542.5,352.0 555.0,352.0 565.0,354.5 575.0,361.0 580.0,366.0" fill="none" stroke="#000" stroke-width="1" shape-rendering="crispEdges"/><g fill="#0000ff" shape-rendering="crispEdges"><rect x="64" y="405" width="1" height="17"/><rect x="108" y="405" width="1" height="17"/><rect x="157" y="405" width="1" height="17"/><rect x="195" y="405" width="1" height="17"/><rect x="240" y="405" width="1" height="17"/><rect x="283" y="405" width="1" height="17"/><rect x="325" y="405" width="1" height="17"/><rect x="370" y="405" width="1" height="17"/><rect x="410" y="405" width="1" height="17"/><rect x="450" y="405" width="1" height="17"/><rect x="496" y="405" width="1" height="17"/><rect x="542" y="405" width="1" height="17"/></g><g font-family="Liberation Sans, Arial, sans-serif" font-weight="bold" font-size="12" fill="#000" text-anchor="middle"><text x="84" y="420">Jul</text><text x="131" y="420">Aug</text><text x="179" y="420">Sep</text><text x="218.6" y="420">Oct</text><text x="264" y="420">Nov</text><text x="308" y="420">Dec</text><text x="348" y="420">Jan</text><text x="393" y="420">Feb</text><text x="432" y="420">Mar</text><text x="472.4" y="420">Apr</text><text x="520.7" y="420">May</text><text x="565" y="420">Jun</text></g><g font-family="Liberation Sans, Arial, sans-serif" font-weight="bold" font-size="12" fill="#000" text-anchor="end"><text x="40" y="60.5" textLength="34" lengthAdjust="spacingAndGlyphs">15500</text><text x="40" y="76.5" textLength="34" lengthAdjust="spacingAndGlyphs">15250</text><text x="40" y="91.5" textLength="34" lengthAdjust="spacingAndGlyphs">15000</text><text x="40" y="107.5" textLength="34" lengthAdjust="spacingAndGlyphs">14750</text><text x="40" y="123.5" textLength="34" lengthAdjust="spacingAndGlyphs">14500</text><text x="40" y="138.5" textLength="34" lengthAdjust="spacingAndGlyphs">14250</text><text x="40" y="154.5" textLength="34" lengthAdjust="spacingAndGlyphs">14000</text><text x="40" y="170.5" textLength="34" lengthAdjust="spacingAndGlyphs">13750</text><text x="40" y="185.5" textLength="34" lengthAdjust="spacingAndGlyphs">13500</text><text x="40" y="201.5" textLength="34" lengthAdjust="spacingAndGlyphs">13250</text><text x="40" y="217.5" textLength="34" lengthAdjust="spacingAndGlyphs">13000</text><text x="40" y="232.5" textLength="34" lengthAdjust="spacingAndGlyphs">12750</text></g><svg x="0" y="0" width="42" height="245.5" overflow="hidden"><text x="40" y="248.5" font-family="Liberation Sans, Arial, sans-serif" font-weight="bold" font-size="12" text-anchor="end" textLength="34" lengthAdjust="spacingAndGlyphs">12500</text></svg><g font-family="Liberation Sans, Arial, sans-serif" font-weight="bold" font-size="12" fill="#000"><text x="1.5" y="286.3" textLength="61" lengthAdjust="spacingAndGlyphs">P-Indicator</text><text x="1" y="343.5" textLength="38" lengthAdjust="spacingAndGlyphs">Accum</text><text x="1" y="356.5" textLength="31" lengthAdjust="spacingAndGlyphs">Index</text><text x="1" y="369.5" textLength="71" lengthAdjust="spacingAndGlyphs">AI= 141/200</text><text x="53" y="341.5" font-size="14" font-weight="normal" textLength="24" lengthAdjust="spacingAndGlyphs">+.25</text><text x="52" y="399.5" font-size="13" textLength="22.5" lengthAdjust="spacingAndGlyphs">-.25</text><text x="601" y="260" textLength="88" lengthAdjust="spacingAndGlyphs">NYSE A/D Line</text></g><rect x="56" y="43" width="361" height="66" fill="#fff"/><rect x="54" y="108" width="347" height="31" fill="#fff"/><g font-family="Liberation Sans, Arial, sans-serif" font-weight="bold" font-size="12.5" fill="#ff7f3a"><text x="62" y="53.5" font-size="11.5" textLength="66.5" lengthAdjust="spacing">3 Scenarios</text><text x="58" y="74.5" textLength="355.5" lengthAdjust="spacing">1) Rally continues to 15000 where major Sells will occur.</text><text x="58" y="90.5" textLength="326" lengthAdjust="spacing">2) At 15000, DJI will reverse, test 14500 neckline and</text><text x="57.5" y="106.5" textLength="73" lengthAdjust="spacing">breakdown.</text><text x="57.5" y="120" font-size="12" textLength="269.5" lengthAdjust="spacing">3) A restest of 14500 will succeed and 15000 be</text><text x="54.5" y="135.5" font-size="12" textLength="64.5" lengthAdjust="spacing">surpassed.</text></g><line x1="57" y1="57.5" x2="130" y2="57.5" stroke="#f0157f" stroke-width="3.2" stroke-linecap="round"/><g font-family="Liberation Sans, Arial, sans-serif" font-weight="bold" font-size="18" fill="#000"><svg x="170" y="138" width="40" height="20" overflow="hidden"><text x="6.5" y="10" textLength="23" lengthAdjust="spacingAndGlyphs">S4</text></svg><text x="538" y="33.4" font-size="18.5" textLength="23" lengthAdjust="spacingAndGlyphs">S9</text><text x="507" y="171.5" textLength="34" lengthAdjust="spacingAndGlyphs">B18</text><text x="264" y="287" textLength="23.3" lengthAdjust="spacingAndGlyphs">B2</text><text x="312.5" y="283" textLength="32" lengthAdjust="spacingAndGlyphs">B13</text><text x="331" y="275.5" textLength="33" lengthAdjust="spacingAndGlyphs">B14</text><text x="361" y="246.5" textLength="36" lengthAdjust="spacingAndGlyphs">B10</text><text x="377" y="242.5" textLength="33" lengthAdjust="spacingAndGlyphs">B18</text></g><g stroke="#f00" stroke-width="1.1" fill="none"><line x1="185.5" y1="150" x2="185.5" y2="165"/><polyline points="181.0,159 185.5,165 190.0,159"/></g><g stroke="#f00" stroke-width="1.1" fill="none"><line x1="547.5" y1="41" x2="547.5" y2="56.5"/><polyline points="543.0,50.5 547.5,56.5 552.0,50.5"/></g><g stroke="#f00" stroke-width="1.1" fill="none"><line x1="258.5" y1="256" x2="258.5" y2="268"/><polyline points="253.5,265 258.5,256 263.5,265"/></g><g stroke="#f00" stroke-width="1.1" fill="none"><line x1="306.5" y1="247.5" x2="306.5" y2="260"/><polyline points="301.5,256.5 306.5,247.5 311.5,256.5"/></g><g stroke="#8020a0" stroke-width="1.1" fill="none"><line x1="325.5" y1="247.5" x2="325.5" y2="260"/><polyline points="320.5,256.5 325.5,247.5 330.5,256.5"/></g><g stroke="#f00" stroke-width="1.1" fill="none"><line x1="354.5" y1="218" x2="354.5" y2="232"/><polyline points="349.5,227 354.5,218 359.5,227"/></g><g stroke="#f00" stroke-width="1.1" fill="none"><line x1="371.5" y1="215" x2="371.5" y2="228"/><polyline points="366.5,224 371.5,215 376.5,224"/></g><g stroke="#f00" stroke-width="1.1" fill="none"><line x1="501" y1="142.5" x2="501" y2="157"/><polyline points="496,151.5 501,142.5 506,151.5"/></g><rect x="594.5" y="71.5" width="76" height="14" fill="#fff" stroke="#000" stroke-width="1"/><text x="603" y="82.5" font-family="Liberation Sans, Arial, sans-serif" font-weight="bold" font-size="13" textLength="58" lengthAdjust="spacingAndGlyphs">resistance</text><line x1="591" y1="87.7" x2="670" y2="87.7" stroke="#f00" stroke-width="3.6"/><line x1="575" y1="86.3" x2="627" y2="85.8" stroke="#ff00ff" stroke-width="2.6"/><text x="600" y="35.6" font-family="DejaVu Sans, Verdana, sans-serif" font-weight="bold" font-size="11" fill="#ff7f3a" textLength="70.5" lengthAdjust="spacingAndGlyphs">3 scenarios</text><text x="683" y="55" font-family="Liberation Sans, Arial, sans-serif" font-size="12.5" fill="#ff7f3a">3</text><text x="632.5" y="132.7" font-family="Liberation Sans, Arial, sans-serif" font-size="12" fill="#ff7f3a">2</text><text x="603" y="63" font-family="Liberation Sans, Arial, sans-serif" font-weight="bold" font-size="12.5" fill="#f0157f">1</text><polygon points="666,70.5 686.5,63.5 671,74.5 676,70" fill="#ff7f3a"/><g fill="none" stroke="#ff7f3a" stroke-width="1.6" stroke-linecap="round"><polyline points="584.6,91.5 590.0,87.4"/><polyline points="594.0,77.8 612.0,66.0"/><polyline points="616.8,63.8 627.8,54.9"/><polyline points="632.0,57.6 643.0,68.0"/><polyline points="641.0,54.2 643.6,68.0"/><polyline points="629.2,67.0 645.0,68.6"/><polyline points="663.0,71.4 675.0,69.0 686.3,64.5"/><polyline points="672.0,74.0 686.3,64.5"/><polyline points="637.0,104.0 670.0,80.5 686.3,64.5"/><polyline points="591.5,88.0 607.3,112.8"/><polyline points="608.7,107.3 619.7,96.3"/><polyline points="623.0,98.4 634.0,116.0"/><polyline points="639.0,136.3 643.5,150.5"/><polyline points="647.0,136.3 644.0,150.5"/><polyline points="630.5,142.0 644.0,150.5"/></g><g font-family="Liberation Sans, Arial, sans-serif" font-weight="bold" font-size="12" fill="#000"><text x="10" y="26" textLength="221" lengthAdjust="spacingAndGlyphs">DJIA-30&#160; Dow Jones Industrial Average</text><text x="42" y="41" textLength="147" lengthAdjust="spacing">6/ 13/ 2012- 6/ 26/ 2013</text><text x="271" y="26" textLength="155" lengthAdjust="spacingAndGlyphs">(C) 2013 www.tigersoft.com</text></g></svg></body></html>
